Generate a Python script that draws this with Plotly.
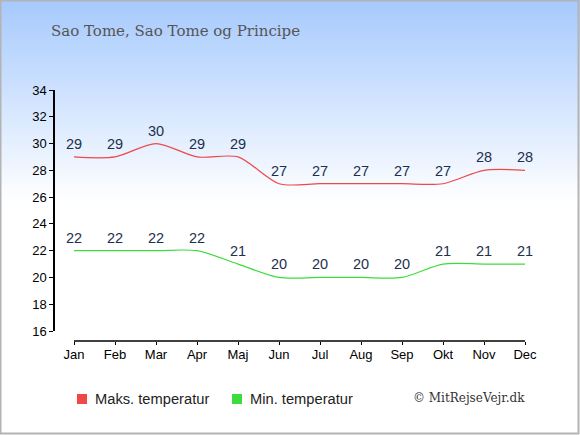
import plotly.graph_objects as go

months = ["Jan", "Feb", "Mar", "Apr", "Maj", "Jun", "Jul", "Aug", "Sep", "Okt", "Nov", "Dec"]
max_temp = [29, 29, 30, 29, 29, 27, 27, 27, 27, 27, 28, 28]
min_temp = [22, 22, 22, 22, 21, 20, 20, 20, 20, 21, 21, 21]
y_ticks = [16, 18, 20, 22, 24, 26, 28, 30, 32, 34]
legend_names = ["Maks. temperatur", "Min. temperatur"]

W, H = 580, 435
L, R, T, B = 55, 55, 90, 94
pw, ph = W - L - R, H - T - B

red = "#f04848"
green = "#3ddc3d"
label_col = "#1e2f50"


def px_x(x):
    return (x - L) / pw


def px_y(y):
    return 1 - (y - T) / ph


fig = go.Figure()

x_idx = list(range(len(months)))

fig.add_trace(go.Scatter(
    x=x_idx, y=max_temp, mode="lines", line=dict(color=red, width=1.2, shape="spline", smoothing=0.8),
    showlegend=False, hoverinfo="skip"))
fig.add_trace(go.Scatter(
    x=x_idx, y=min_temp, mode="lines", line=dict(color=green, width=1.2, shape="spline", smoothing=0.8),
    showlegend=False, hoverinfo="skip"))

for vals in (max_temp, min_temp):
    for i, v in enumerate(vals):
        fig.add_annotation(x=i, y=v, text=str(v), showarrow=False, yshift=13,
                           font=dict(size=14.5, color=label_col, family="Liberation Sans"))

# gradient background: light blue at top fading to white
shapes = []
top_rgb = (166, 202, 253)
fade_h = 200
steps = 50
for k in range(steps):
    f = k / steps
    c = tuple(int(round(a + (255 - a) * f)) for a in top_rgb)
    y_top = k * fade_h / steps
    y_bot = (k + 1) * fade_h / steps + 0.5
    shapes.append(dict(type="rect", xref="paper", yref="paper", layer="below", line=dict(width=0),
                       x0=px_x(0), x1=px_x(W), y0=px_y(y_bot), y1=px_y(y_top),
                       fillcolor="rgb(%d,%d,%d)" % c))
# border
shapes.append(dict(type="rect", xref="paper", yref="paper", layer="above",
                   x0=px_x(0.5), x1=px_x(W - 1.5), y0=px_y(H - 1.5), y1=px_y(0.5),
                   line=dict(color="#b4b4b4", width=2)))
# x axis line from Jan to Dec
shapes.append(dict(type="line", xref="x", yref="paper", x0=0, x1=11, y0=0, y1=0,
                   line=dict(color="black", width=1.5)))

# legend: squares + text
for name, col, sx in zip(legend_names, [red, green], [77, 232]):
    shapes.append(dict(type="rect", xref="paper", yref="paper", line=dict(width=0),
                       x0=px_x(sx), x1=px_x(sx + 10), y0=px_y(404), y1=px_y(394), fillcolor=col))
    fig.add_annotation(xref="paper", yref="paper", x=px_x(sx + 16), y=px_y(398.5),
                       xanchor="left", yanchor="middle", showarrow=False, text=name,
                       font=dict(size=14.7, color="#222222", family="Liberation Sans"))

fig.update_layout(
    width=W, height=H,
    margin=dict(l=L, r=R, t=T, b=B),
    paper_bgcolor="white", plot_bgcolor="rgba(0,0,0,0)",
    shapes=shapes,
    showlegend=False,
    font=dict(family="Liberation Sans", size=13, color="black"),
    title=dict(text="Sao Tome, Sao Tome og Principe", x=51 / W, xanchor="left",
               y=1 - 31 / H, yanchor="middle",
               font=dict(family="DejaVu Serif", size=15, color="#555555")),
    xaxis=dict(range=[-19 / 41, 11], tickmode="array", tickvals=x_idx, ticktext=months,
               showgrid=False, zeroline=False, showline=False, ticks="outside", ticklen=3,
               tickcolor="black", anchor="free", position=0, fixedrange=True,
               ticklabelstandoff=-2),
    yaxis=dict(range=[16, 34], domain=[10 / ph, 1], tickvals=y_ticks, showgrid=False,
               zeroline=False, showline=True, linecolor="black", linewidth=1.5,
               ticks="outside", ticklen=4, tickcolor="black", fixedrange=True),
)

fig.add_annotation(xref="paper", yref="paper", x=px_x(527), y=px_y(398),
                   xanchor="right", yanchor="middle", showarrow=False,
                   text="© MitRejseVejr.dk",
                   font=dict(family="DejaVu Serif", size=12, color="#333333"))

fig.write_html("out.html", config={"displayModeBar": False},
               post_script="document.body.style.margin='0';")
